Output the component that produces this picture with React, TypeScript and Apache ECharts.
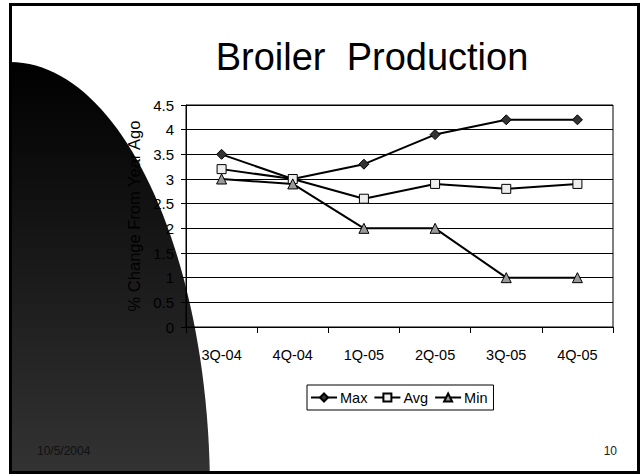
import React, { useEffect, useRef } from "react";
import * as echarts from "echarts";

const categories = ["3Q-04", "4Q-04", "1Q-05", "2Q-05", "3Q-05", "4Q-05"];
const maxValues = [3.5, 3.0, 3.3, 3.9, 4.2, 4.2];
const avgValues = [3.2, 3.0, 2.6, 2.9, 2.8, 2.9];
const minValues = [3.0, 2.9, 2.0, 2.0, 1.0, 1.0];
const yMin = 0;
const yMax = 4.5;
const yInterval = 0.5;
const titleText = "Broiler  Production";
const yAxisName = "% Change From Year Ago";
const footerDate = "10/5/2004";
const pageNumber = "10";

const LABEL_FONT = "'Liberation Sans', Arial, sans-serif";
const REGULAR = "'Liberation Sans', Arial, sans-serif";

export default function App() {
  const ref = useRef<HTMLDivElement>(null);

  useEffect(() => {
    document.body.style.margin = "0";
    const chart = echarts.init(ref.current!, null, { renderer: "svg" });
    const option: any = {
      animation: false,
      backgroundColor: "#ffffff",
      graphic: [
        {
          type: "ellipse",
          z: -10,
          silent: true,
          shape: { cx: 10, cy: 492, rx: 200, ry: 430 },
          style: {
            fill: new echarts.graphic.LinearGradient(0, 0, 0, 1, [
              { offset: 0, color: "#000000" },
              { offset: 0.48, color: "#333333" },
              { offset: 1, color: "#333333" },
            ]),
          },
        },
        {
          type: "rect",
          z: -5,
          silent: true,
          shape: { x: 0, y: 0, width: 9, height: 474 },
          style: { fill: "#ffffff" },
        },
        {
          type: "rect",
          z: 100,
          silent: true,
          shape: { x: 10.5, y: 4.5, width: 628, height: 468 },
          style: { fill: "none", stroke: "#000000", lineWidth: 3 },
        },
        {
          type: "text",
          z: 50,
          x: 372,
          y: 57,
          style: {
            text: titleText,
            fontFamily: REGULAR,
            fontSize: 38,
            fill: "#000000",
            align: "center",
            verticalAlign: "middle",
          },
        },
        {
          type: "text",
          z: 50,
          x: 37,
          y: 451,
          style: {
            text: footerDate,
            fontFamily: REGULAR,
            fontSize: 12,
            fill: "#111111",
            align: "left",
            verticalAlign: "middle",
          },
        },
        {
          type: "text",
          z: 50,
          x: 617,
          y: 451,
          style: {
            text: pageNumber,
            fontFamily: REGULAR,
            fontSize: 12,
            fill: "#222222",
            align: "right",
            verticalAlign: "middle",
          },
        },
      ],
      grid: {
        left: 186,
        right: 29,
        top: 105,
        bottom: 147,
        show: true,
        borderColor: "#000000",
        borderWidth: 1,
        backgroundColor: "transparent",
      },
      legend: {
        left: 307,
        top: 385,
        orient: "horizontal",
        padding: [5, 6, 5, 3],
        itemGap: 6,
        itemWidth: 26,
        itemHeight: 10,
        borderColor: "#000000",
        borderWidth: 1,
        backgroundColor: "#ffffff",
        textStyle: { fontFamily: LABEL_FONT, fontSize: 14.5, color: "#000000", padding: [0, 0, 0, -2] },
        data: ["Max", "Avg", "Min"],
      },
      xAxis: {
        type: "category",
        data: categories,
        boundaryGap: true,
        axisLine: { show: true, lineStyle: { color: "#000000", width: 1 } },
        axisTick: { show: true, length: 6, lineStyle: { color: "#000000" } },
        axisLabel: { margin: 20, fontFamily: LABEL_FONT, fontSize: 14.5, color: "#000000", interval: 0 },
        splitLine: { show: false },
      },
      yAxis: {
        type: "value",
        min: yMin,
        max: yMax,
        interval: yInterval,
        name: yAxisName,
        nameLocation: "middle",
        nameRotate: 90,
        nameGap: 34,
        nameTextStyle: { fontFamily: REGULAR, fontSize: 16.5, color: "#000000" },
        axisLine: { show: true, lineStyle: { color: "#000000", width: 1 } },
        axisTick: { show: true, length: 5, lineStyle: { color: "#000000" } },
        axisLabel: { margin: 12, fontFamily: LABEL_FONT, fontSize: 15, color: "#000000" },
        splitLine: { show: true, lineStyle: { color: "#000000", width: 1 } },
      },
      series: [
        {
          name: "Max",
          type: "line",
          data: maxValues,
          symbol: "diamond",
          symbolSize: 10,
          lineStyle: { color: "#000000", width: 2 },
          itemStyle: { color: "#333333", borderColor: "#000000", borderWidth: 1 },
        },
        {
          name: "Avg",
          type: "line",
          data: avgValues,
          symbol: "rect",
          symbolSize: 9,
          lineStyle: { color: "#000000", width: 2 },
          itemStyle: { color: "#eeeeee", borderColor: "#000000", borderWidth: 1 },
        },
        {
          name: "Min",
          type: "line",
          data: minValues,
          symbol: "triangle",
          symbolSize: 10,
          lineStyle: { color: "#000000", width: 2 },
          itemStyle: { color: "#999999", borderColor: "#000000", borderWidth: 1 },
        },
      ],
    };
    chart.setOption(option);
    return () => chart.dispose();
  }, []);

  return (
    <div
      ref={ref}
      style={{ position: "absolute", left: 0, top: 0, width: 642, height: 474 }}
    />
  );
}
